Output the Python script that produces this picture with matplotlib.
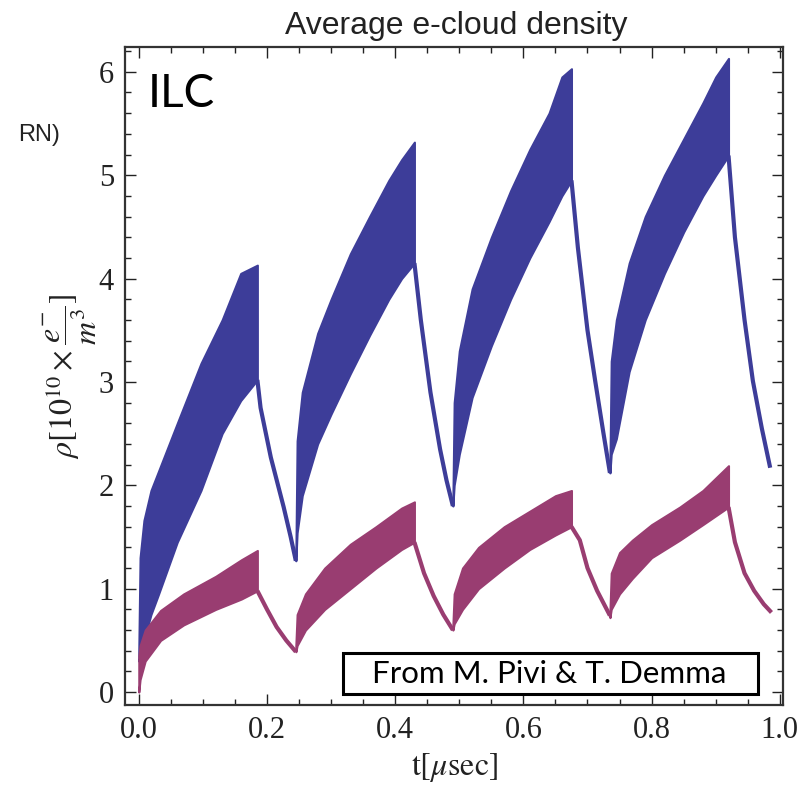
import matplotlib
matplotlib.use("Agg")
import matplotlib.pyplot as plt
from matplotlib.patches import Rectangle
from matplotlib.ticker import MultipleLocator

plt.rcParams['mathtext.fontset'] = 'stix'

# ---------------- data ----------------
# Blue series (first train set): band envelopes during trains, thin line in gaps
blue_train_t = [
    [0.0, 0.002, 0.008, 0.019, 0.031, 0.06, 0.097, 0.13, 0.159, 0.185],
    [0.245, 0.247, 0.255, 0.279, 0.30, 0.33, 0.36, 0.39, 0.41, 0.43],
    [0.49, 0.492, 0.50, 0.52, 0.55, 0.58, 0.61, 0.64, 0.66, 0.675],
    [0.735, 0.737, 0.745, 0.765, 0.79, 0.82, 0.85, 0.88, 0.90, 0.92],
]
blue_train_upper = [
    [0.4, 1.3, 1.66, 1.95, 2.14, 2.6, 3.18, 3.6, 4.05, 4.13],
    [1.3, 2.43, 2.9, 3.47, 3.8, 4.24, 4.6, 4.95, 5.15, 5.32],
    [1.85, 2.8, 3.3, 3.9, 4.4, 4.85, 5.25, 5.6, 5.95, 6.03],
    [2.2, 3.2, 3.6, 4.15, 4.6, 5.0, 5.35, 5.7, 5.95, 6.13],
]
blue_train_lower = [
    [0.3, 0.35, 0.5, 0.75, 0.95, 1.45, 1.95, 2.5, 2.82, 3.02],
    [1.27, 1.54, 1.9, 2.4, 2.69, 3.08, 3.45, 3.8, 4.0, 4.15],
    [1.8, 2.0, 2.3, 2.85, 3.35, 3.8, 4.2, 4.55, 4.8, 4.95],
    [2.12, 2.3, 2.45, 3.1, 3.6, 4.05, 4.45, 4.8, 5.0, 5.19],
]
blue_gap_t = [
    [0.185, 0.19, 0.206, 0.226, 0.237, 0.245],
    [0.43, 0.44, 0.455, 0.47, 0.48, 0.49],
    [0.675, 0.685, 0.70, 0.712, 0.725, 0.735],
    [0.92, 0.93, 0.945, 0.958, 0.972, 0.985],
]
blue_gap_v = [
    [3.02, 2.75, 2.27, 1.79, 1.5, 1.27],
    [4.15, 3.6, 2.9, 2.35, 2.05, 1.8],
    [4.95, 4.3, 3.5, 3.01, 2.5, 2.12],
    [5.19, 4.4, 3.6, 3.01, 2.55, 2.17],
]

# Pink series
pink_train_t = [
    [0.0, 0.002, 0.01, 0.034, 0.07, 0.12, 0.16, 0.185],
    [0.245, 0.247, 0.26, 0.29, 0.33, 0.37, 0.41, 0.43],
    [0.49, 0.492, 0.505, 0.53, 0.57, 0.61, 0.65, 0.675],
    [0.735, 0.737, 0.75, 0.77, 0.80, 0.844, 0.88, 0.92],
]
pink_train_upper = [
    [0.35, 0.45, 0.6, 0.79, 0.95, 1.12, 1.28, 1.37],
    [0.45, 0.75, 0.95, 1.2, 1.43, 1.6, 1.78, 1.84],
    [0.65, 0.95, 1.2, 1.4, 1.6, 1.75, 1.9, 1.95],
    [0.78, 1.15, 1.35, 1.47, 1.62, 1.79, 1.95, 2.19],
]
pink_train_lower = [
    [0.0, 0.12, 0.3, 0.5, 0.65, 0.8, 0.9, 0.98],
    [0.39, 0.45, 0.6, 0.8, 1.0, 1.2, 1.38, 1.45],
    [0.6, 0.66, 0.8, 1.0, 1.2, 1.38, 1.52, 1.6],
    [0.72, 0.8, 0.95, 1.1, 1.3, 1.47, 1.62, 1.79],
]
pink_gap_t = [
    [0.185, 0.2, 0.215, 0.23, 0.245],
    [0.43, 0.445, 0.46, 0.475, 0.49],
    [0.675, 0.688, 0.70, 0.715, 0.735],
    [0.92, 0.93, 0.945, 0.96, 0.975, 0.987],
]
pink_gap_v = [
    [0.98, 0.8, 0.63, 0.5, 0.39],
    [1.45, 1.15, 0.93, 0.75, 0.6],
    [1.6, 1.47, 1.2, 0.98, 0.74],
    [1.79, 1.45, 1.15, 0.98, 0.85, 0.77],
]

x_ticks = [0.0, 0.2, 0.4, 0.6, 0.8, 1.0]
x_tick_labels = ["0.0", "0.2", "0.4", "0.6", "0.8", "1.0"]
y_ticks = [0, 1, 2, 3, 4, 5, 6]
y_tick_labels = ["0", "1", "2", "3", "4", "5", "6"]

BLUE = "#3d3d99"
PINK = "#993d71"

# ---------------- figure ----------------
W, H = 809, 789
fig = plt.figure(figsize=(W / 100, H / 100), dpi=100)
ax = fig.add_axes([125 / W, 1 - 705 / H, (783 - 125) / W, (705 - 47) / H])

for series in [(blue_train_t, blue_train_upper, blue_train_lower, blue_gap_t, blue_gap_v, BLUE),
               (pink_train_t, pink_train_upper, pink_train_lower, pink_gap_t, pink_gap_v, PINK)]:
    tt, up, lo, gt, gv, col = series
    for t, u, l in zip(tt, up, lo):
        ax.fill_between(t, l, u, color=col, linewidth=1.5, edgecolor=col)
    for t, v in zip(gt, gv):
        ax.plot(t, v, color=col, lw=3.0, solid_capstyle='butt')

ax.set_xlim(-0.0215, 1.005)
ax.set_ylim(-0.125, 6.24)

ax.set_xticks(x_ticks)
ax.set_xticklabels(x_tick_labels)
ax.set_yticks(y_ticks)
ax.set_yticklabels(y_tick_labels)
ax.xaxis.set_minor_locator(MultipleLocator(0.05))
ax.yaxis.set_minor_locator(MultipleLocator(0.2))
ax.tick_params(which='both', direction='in', top=True, right=True, color='#222222', width=1.0)
ax.tick_params(which='major', length=8, pad=8)
ax.tick_params(which='minor', length=4.5)
for lab in ax.get_xticklabels() + ax.get_yticklabels():
    lab.set_fontfamily('Liberation Serif')
    lab.set_fontsize(22)
    lab.set_color('#222222')
for sp in ax.spines.values():
    sp.set_linewidth(1.6)
    sp.set_color('#333333')

ax.set_xlabel(r'$\mathrm{t}[\mu\mathrm{sec}]$', fontsize=23, labelpad=4, color='#222222')
ax.set_ylabel(r'$\rho[10^{10}\times\dfrac{e^{-}}{m^{3}}]$', fontsize=23, labelpad=0, color='#222222')

fig.text(456 / W, 1 - 26 / H, "Average e-cloud density", ha='center', va='center',
         fontsize=23, family=['Liberation Sans Narrow', 'Liberation Sans', 'DejaVu Sans'], color='#222222')

fig.text(148 / W, 1 - 107 / H, "ILC", ha='left', va='baseline', fontsize=33,
         family=['Lato', 'DejaVu Sans'], color='black')
fig.text(18 / W, 1 - 141 / H, "RN)", ha='left', va='baseline', fontsize=17,
         family=['Liberation Sans', 'DejaVu Sans'], color='#222222')

# credit box
fig.patches.append(Rectangle((343 / W, 1 - 694 / H), (758 - 343) / W, (694 - 653) / H,
                             transform=fig.transFigure, facecolor='white', edgecolor='black',
                             linewidth=2.2, zorder=5))
fig.text(549 / W, 1 - 674 / H, "From M. Pivi & T. Demma", ha='center', va='center', fontsize=22.5,
         family=['Lato', 'DejaVu Sans'], color='black', zorder=6)

fig.savefig("out.png", dpi=100)
